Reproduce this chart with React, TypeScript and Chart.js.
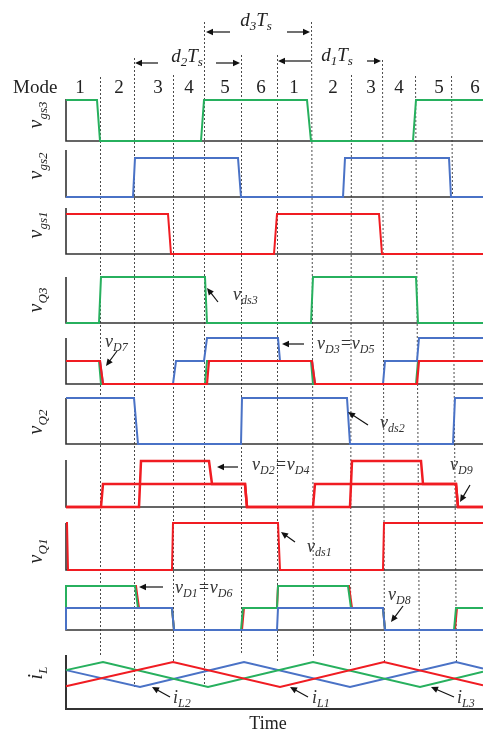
import React, { useEffect, useRef } from "react";
import { Chart, registerables } from "chart.js";

Chart.register(...registerables);

const W = 483;
const H = 731;
const PLOT_LEFT = 66;
const T_MAX = 417;

const GREEN = "#27b05e";
const BLUE = "#4a72c6";
const RED = "#f01c22";
const AXIS = "#333333";
const FONT = '"Liberation Serif", "Times New Roman", serif';

// ---- mode row ----
const MODE_NAMES = ["1", "2", "3", "4", "5", "6", "1", "2", "3", "4", "5", "6"];
const MODE_LABEL_T = [14, 53, 92, 123, 159, 195, 228, 267, 305, 333, 373, 409];

// ---- mode boundaries (dashed guides) ----
const GUIDE_T_TOP = [34, 68, 107, 138, 175, 211, 245, 285, 316, 349, 385];
const GUIDE_T_BOTTOM = [34, 68, 107, 138, 175, 211, 247, 284, 318, 353, 390];
const GUIDE_Y_TOP = [77, 58, 75, 22, 55, 55, 22, 75, 60, 76, 76];
const GUIDE_Y_BOTTOM = [657, 687, 663, 687, 653, 663, 657, 667, 662, 667, 662];

// ---- gate signals ----
const VGS3_T = [0, 31, 34, 135, 138, 241, 245, 347, 350, 417];
const VGS3_V = [1, 1, 0, 0, 1, 1, 0, 0, 1, 1];
const VGS2_T = [0, 67, 69, 172, 175, 277, 279, 383, 385, 417];
const VGS2_V = [0, 0, 1, 1, 0, 0, 1, 1, 0, 0];
const VGS1_T = [0, 102, 105, 208, 211, 313, 316, 417];
const VGS1_V = [1, 1, 0, 0, 1, 1, 0, 0];

// ---- switch Q3 and diodes D3/D5/D7 ----
const VDS3_T = [0, 33, 35, 139, 141, 245, 247, 350, 352, 417];
const VDS3_V = [0, 0, 1, 1, 0, 0, 1, 1, 0, 0];
const VD7_T = [0, 34, 37, 141, 143, 246, 249, 351, 353, 417];
const VD7_V = [0.5, 0.5, 0, 0, 0.5, 0.5, 0, 0, 0.5, 0.5];
const VD7_EDGE_T = [0, 33, 35, 139, 141, 245, 247, 350, 352, 417];
const VD35_T = [0, 34, 37, 107, 110, 138, 141, 212, 214, 246, 249, 317, 319, 351, 353, 417];
const VD35_V = [0.5, 0.5, 0, 0, 0.5, 0.5, 1, 1, 0.5, 0.5, 0, 0, 0.5, 0.5, 1, 1];

// ---- switch Q2 and diodes D2/D4/D9 ----
const VDS2_T = [0, 68, 72, 175, 176, 281, 284, 387, 389, 417];
const VDS2_V = [1, 1, 0, 0, 1, 1, 0, 0, 1, 1];
const VD9_T = [0, 35, 37, 179, 181, 247, 249, 390, 392, 417];
const VD9_V = [0, 0, 0.5, 0.5, 0, 0, 0.5, 0.5, 0, 0];
const VD24_T = [0, 73, 75, 143, 146, 179, 181, 284, 286, 355, 357, 390, 392, 417];
const VD24_V = [0, 0, 1, 1, 0.5, 0.5, 0, 0, 1, 1, 0.5, 0.5, 0, 0];

// ---- switch Q1 and diodes D1/D6/D8 ----
const VDS1_T = [0, 1, 2, 106, 107, 212, 214, 317, 318, 417];
const VDS1_V = [1, 1, 0, 0, 1, 1, 0, 0, 1, 1];
const VD16_T = [0, 0, 69, 72, 106, 108, 175, 177, 211, 212, 282, 285, 317, 319, 388, 390, 417];
const VD16_V = [0, 1, 1, 0.5, 0.5, 0, 0, 0.5, 0.5, 1, 1, 0.5, 0.5, 0, 0, 0.5, 0.5];
const VD16_EDGE_T = [0, 0, 70, 73, 106, 108, 176, 178, 211, 212, 283, 286, 317, 319, 389, 391, 417];
const VD8_T = [0, 0, 106, 108, 211, 212, 317, 319, 417];
const VD8_V = [0, 0.5, 0.5, 0, 0, 0.5, 0.5, 0, 0];

// ---- inductor currents ----
const IL1_T = [0, 107, 214, 318, 417];
const IL1_V = [0.42, 0.87, 0.41, 0.87, 0.44];
const IL2_T = [0, 74, 178, 284, 390, 417];
const IL2_V = [0.72, 0.41, 0.87, 0.41, 0.87, 0.75];
const IL3_T = [0, 37, 142, 247, 354, 417];
const IL3_V = [0.72, 0.87, 0.41, 0.87, 0.41, 0.69];

// ---- panel layout (page pixels) ----
type Panel = { id: string; base: number; high: number; axisTop: number; label?: string; labelY?: number };
const PANELS: Panel[] = [
  { id: "gs3", base: 141, high: 100, axisTop: 99, label: "v_{gs3}", labelY: 115 },
  { id: "gs2", base: 197, high: 158, axisTop: 150, label: "v_{gs2}", labelY: 166 },
  { id: "gs1", base: 254, high: 214, axisTop: 208, label: "v_{gs1}", labelY: 225 },
  { id: "q3", base: 323, high: 277, axisTop: 277, label: "v_{Q3}", labelY: 300 },
  { id: "d3", base: 384, high: 338, axisTop: 338 },
  { id: "q2", base: 444, high: 398, axisTop: 398, label: "v_{Q2}", labelY: 422 },
  { id: "d2", base: 507, high: 461, axisTop: 460 },
  { id: "q1", base: 570, high: 523, axisTop: 523, label: "v_{Q1}", labelY: 551 },
  { id: "d1", base: 630, high: 586, axisTop: 586 },
  { id: "il", base: 709, high: 655, axisTop: 655, label: "i_{L}", labelY: 673 },
];

// ---- interval markers ----
const SPANS = [
  { text: "d_{3}T_{s}", t: 190, y: 26, arrowY: 32, left: [164, 140], right: [221, 244] },
  { text: "d_{2}T_{s}", t: 121, y: 62, arrowY: 63, left: [92, 69], right: [150, 174] },
  { text: "d_{1}T_{s}", t: 271, y: 61, arrowY: 61, left: [245, 212], right: [301, 315] },
];

// ---- trace annotations: text at (t, y); arrow from -> to, each [t, y] ----
const NOTES = [
  { text: "v_{ds3}", t: 167, y: 300, from: [152, 302], to: [141, 288] },
  { text: "v_{D7}", t: 39, y: 347, from: [51, 351], to: [40, 366] },
  { text: "v_{D3}=v_{D5}", t: 251, y: 349, from: [238, 344], to: [216, 344] },
  { text: "v_{ds2}", t: 314, y: 428, from: [302, 425], to: [282, 412] },
  { text: "v_{D2}=v_{D4}", t: 186, y: 470, from: [172, 467], to: [151, 467] },
  { text: "v_{D9}", t: 384, y: 470, from: [404, 485], to: [394, 502] },
  { text: "v_{ds1}", t: 241, y: 552, from: [229, 542], to: [215, 532] },
  { text: "v_{D1}=v_{D6}", t: 109, y: 593, from: [97, 587], to: [73, 587] },
  { text: "v_{D8}", t: 322, y: 600, from: [337, 606], to: [325, 622] },
  { text: "i_{L2}", t: 107, y: 703, from: [104, 697], to: [86, 687] },
  { text: "i_{L1}", t: 246, y: 703, from: [242, 697], to: [224, 687] },
  { text: "i_{L3}", t: 391, y: 703, from: [388, 697], to: [365, 687] },
];

type Run = { text: string; sub: boolean };
function parseRich(s: string): Run[] {
  const out: Run[] = [];
  const re = /_\{([^}]*)\}/g;
  let last = 0;
  let m: RegExpExecArray | null;
  while ((m = re.exec(s))) {
    if (m.index > last) out.push({ text: s.slice(last, m.index), sub: false });
    out.push({ text: m[1], sub: true });
    last = re.lastIndex;
  }
  if (last < s.length) out.push({ text: s.slice(last), sub: false });
  return out;
}

function drawRich(
  ctx: CanvasRenderingContext2D,
  s: string,
  x: number,
  y: number,
  size: number,
  subSize: number,
  shift: number,
  align: "left" | "center",
  color: string
) {
  const runs = parseRich(s);
  const font = (sz: number) => `italic ${sz}px ${FONT}`;
  let total = 0;
  runs.forEach((r) => {
    ctx.font = font(r.sub ? subSize : size);
    total += ctx.measureText(r.text).width;
  });
  let cx = align === "center" ? x - total / 2 : x;
  ctx.textAlign = "left";
  ctx.textBaseline = "alphabetic";
  ctx.fillStyle = color;
  runs.forEach((r) => {
    ctx.font = font(r.sub ? subSize : size);
    ctx.fillText(r.text, cx, y + (r.sub ? shift : 0));
    cx += ctx.measureText(r.text).width;
  });
}

function drawArrow(ctx: CanvasRenderingContext2D, x1: number, y1: number, x2: number, y2: number, color: string) {
  const ang = Math.atan2(y2 - y1, x2 - x1);
  const len = 7;
  const half = 3.2;
  ctx.strokeStyle = color;
  ctx.fillStyle = color;
  ctx.lineWidth = 1.2;
  ctx.beginPath();
  ctx.moveTo(x1, y1);
  ctx.lineTo(x2 - Math.cos(ang) * len * 0.8, y2 - Math.sin(ang) * len * 0.8);
  ctx.stroke();
  ctx.beginPath();
  ctx.moveTo(x2, y2);
  ctx.lineTo(x2 - Math.cos(ang) * len - Math.sin(ang) * half, y2 - Math.sin(ang) * len + Math.cos(ang) * half);
  ctx.lineTo(x2 - Math.cos(ang) * len + Math.sin(ang) * half, y2 - Math.sin(ang) * len - Math.cos(ang) * half);
  ctx.closePath();
  ctx.fill();
}

const overlay = {
  id: "timingOverlay",
  beforeDatasetsDraw(chart: any) {
    const ctx: CanvasRenderingContext2D = chart.ctx;
    const xs = chart.scales.x;
    ctx.save();
    ctx.strokeStyle = "#4a4a4a";
    ctx.lineWidth = 1;
    ctx.setLineDash([2, 2]);
    GUIDE_T_TOP.forEach((t, i) => {
      ctx.beginPath();
      ctx.moveTo(Math.round(xs.getPixelForValue(t)) + 0.5, GUIDE_Y_TOP[i]);
      ctx.lineTo(Math.round(xs.getPixelForValue(GUIDE_T_BOTTOM[i])) + 0.5, GUIDE_Y_BOTTOM[i]);
      ctx.stroke();
    });
    ctx.restore();
  },
  afterDatasetsDraw(chart: any) {
    const ctx: CanvasRenderingContext2D = chart.ctx;
    const xs = chart.scales.x;
    const px = (t: number) => xs.getPixelForValue(t);
    ctx.save();

    // y-axis labels, rotated
    PANELS.forEach((p) => {
      if (!p.label) return;
      ctx.save();
      ctx.translate(42, p.labelY as number);
      ctx.rotate(-Math.PI / 2);
      drawRich(ctx, p.label, 0, 0, 20, 13, 5, "center", "#222");
      ctx.restore();
    });

    // mode row
    ctx.fillStyle = "#222";
    ctx.font = `19px ${FONT}`;
    ctx.textAlign = "left";
    ctx.textBaseline = "alphabetic";
    ctx.fillText("Mode", 13, 93);
    ctx.textAlign = "center";
    MODE_NAMES.forEach((m, i) => ctx.fillText(m, px(MODE_LABEL_T[i]), 93));

    // interval markers
    SPANS.forEach((s) => {
      drawRich(ctx, s.text, px(s.t), s.y, 19, 13, 4, "center", "#222");
      drawArrow(ctx, px(s.left[0]), s.arrowY, px(s.left[1]), s.arrowY, "#111");
      drawArrow(ctx, px(s.right[0]), s.arrowY, px(s.right[1]), s.arrowY, "#111");
    });

    // trace annotations
    NOTES.forEach((n) => {
      drawRich(ctx, n.text, px(n.t), n.y, 18, 12, 4, "left", "#333");
      drawArrow(ctx, px(n.from[0]), n.from[1], px(n.to[0]), n.to[1], "#111");
    });

    // time axis title
    ctx.fillStyle = "#222";
    ctx.font = `18px ${FONT}`;
    ctx.textAlign = "center";
    ctx.fillText("Time", px(202), 729);
    ctx.restore();
  },
};

function series(t: number[], v: number[]) {
  return t.map((x, i) => ({ x, y: v[i] }));
}

function buildDatasets() {
  const sets: any[] = [];
  const add = (panel: string, t: number[], v: number[], color: string, width = 2) =>
    sets.push({
      data: series(t, v),
      xAxisID: "x",
      yAxisID: panel,
      borderColor: color,
      borderWidth: width,
      pointRadius: 0,
      tension: 0,
      fill: false,
      clip: false,
    });

  // panel frames: left edge and zero line
  PANELS.forEach((p) => {
    const top = (p.base - p.axisTop) / (p.base - p.high);
    add(p.id, [0, 0, T_MAX], [top, 0, 0], AXIS, p.id === "il" ? 2 : 1.6);
  });

  add("gs3", VGS3_T, VGS3_V, GREEN);
  add("gs2", VGS2_T, VGS2_V, BLUE);
  add("gs1", VGS1_T, VGS1_V, RED);
  add("q3", VDS3_T, VDS3_V, GREEN);

  add("d3", VD7_EDGE_T, VD7_V, GREEN);
  add("d3", VD35_T, VD35_V, BLUE);
  add("d3", VD7_T, VD7_V, RED, 2.2);

  add("q2", VDS2_T, VDS2_V, BLUE);

  add("d2", VD24_T, VD24_V, RED, 2.5);
  add("d2", VD9_T, VD9_V, RED, 2.5);

  add("q1", VDS1_T, VDS1_V, RED);

  add("d1", VD16_EDGE_T, VD16_V, RED);
  add("d1", VD16_T, VD16_V, GREEN);
  add("d1", VD8_T, VD8_V, BLUE);

  add("il", IL2_T, IL2_V, BLUE);
  add("il", IL3_T, IL3_V, GREEN);
  add("il", IL1_T, IL1_V, RED);

  // paint in array order (first = bottom)
  sets.forEach((s, i) => (s.order = -i));
  return sets;
}

function buildScales() {
  const scales: any = {
    x: { type: "linear", min: 0, max: T_MAX, display: false, bounds: "data" },
  };
  PANELS.forEach((p) => {
    const k = p.base - p.high;
    const min = -(H - p.base) / k;
    scales[p.id] = { type: "linear", display: false, min, max: min + H / k, bounds: "data" };
  });
  return scales;
}

export default function App() {
  const ref = useRef<HTMLCanvasElement>(null);

  useEffect(() => {
    if (!ref.current) return;
    const chart = new Chart(ref.current, {
      type: "line",
      data: { datasets: buildDatasets() },
      options: {
        responsive: false,
        animation: false,
        events: [],
        layout: { padding: { left: PLOT_LEFT, right: 0, top: 0, bottom: 0 } },
        scales: buildScales(),
        plugins: { legend: { display: false }, tooltip: { enabled: false } },
      } as any,
      plugins: [overlay],
    });
    return () => chart.destroy();
  }, []);

  return (
    <div style={{ position: "absolute", left: 0, top: 0, width: W, height: H, background: "#fff" }}>
      <canvas ref={ref} width={W} height={H} style={{ display: "block", width: W, height: H }} />
    </div>
  );
}
